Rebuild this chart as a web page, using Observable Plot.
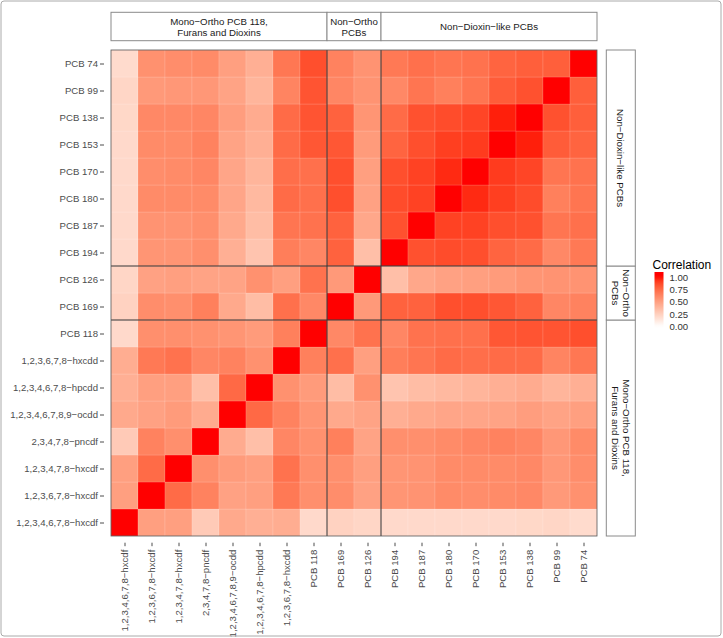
<!DOCTYPE html>
<html>
<head>
<meta charset="utf-8">
<script src="https://cdn.jsdelivr.net/npm/d3@7"></script>
<script src="https://cdn.jsdelivr.net/npm/@observablehq/plot@0.6"></script>
<style>
  html, body { margin: 0; padding: 0; background: #fff; }
  #chart { width: 723px; height: 638px; }
</style>
</head>
<body>
<div id="chart"></div>
<script>
// Variables in axis order (x left→right; y bottom→top)
const variables = [
  "1,2,3,4,6,7,8−hxcdf", "1,2,3,6,7,8−hxcdf", "1,2,3,4,7,8−hxcdf", "2,3,4,7,8−pncdf",
  "1,2,3,4,6,7,8,9−ocdd", "1,2,3,4,6,7,8−hpcdd", "1,2,3,6,7,8−hxcdd", "PCB 118",
  "PCB 169", "PCB 126",
  "PCB 194", "PCB 187", "PCB 180", "PCB 170", "PCB 153", "PCB 138", "PCB 99", "PCB 74"
];

// Lower triangle of the correlation matrix: row i holds corr(variables[i], variables[j]) for j < i
const lowerTriangle = [
  [],
  [0.50],
  [0.50, 0.74],
  [0.28, 0.64, 0.58],
  [0.45, 0.49, 0.52, 0.44],
  [0.42, 0.50, 0.50, 0.34, 0.75],
  [0.43, 0.68, 0.71, 0.62, 0.64, 0.57],
  [0.20, 0.58, 0.58, 0.57, 0.55, 0.52, 0.65],
  [0.24, 0.59, 0.58, 0.65, 0.45, 0.35, 0.72, 0.61],
  [0.22, 0.49, 0.50, 0.48, 0.48, 0.57, 0.50, 0.71, 0.53],
  [0.20, 0.55, 0.55, 0.58, 0.42, 0.31, 0.66, 0.62, 0.78, 0.34],
  [0.20, 0.56, 0.56, 0.58, 0.45, 0.35, 0.70, 0.71, 0.78, 0.46, 0.84],
  [0.20, 0.60, 0.60, 0.60, 0.47, 0.37, 0.74, 0.72, 0.85, 0.49, 0.86, 0.89],
  [0.20, 0.59, 0.60, 0.62, 0.47, 0.39, 0.73, 0.72, 0.85, 0.50, 0.85, 0.89, 0.95],
  [0.20, 0.60, 0.60, 0.64, 0.48, 0.42, 0.74, 0.82, 0.82, 0.52, 0.77, 0.85, 0.90, 0.91],
  [0.21, 0.61, 0.61, 0.62, 0.51, 0.44, 0.74, 0.83, 0.78, 0.55, 0.74, 0.84, 0.86, 0.88, 0.97],
  [0.22, 0.53, 0.54, 0.54, 0.48, 0.39, 0.63, 0.83, 0.62, 0.56, 0.61, 0.70, 0.65, 0.70, 0.80, 0.84],
  [0.19, 0.57, 0.59, 0.60, 0.50, 0.42, 0.69, 0.85, 0.64, 0.56, 0.68, 0.72, 0.70, 0.71, 0.77, 0.79, 0.79]
];

// Facet groups
const groupMembers = [
  variables.slice(0, 8),
  variables.slice(8, 10),
  variables.slice(10, 18)
];
const groupLabels = [
  ["Mono−Ortho PCB 118,", "Furans and Dioxins"],
  ["Non−Ortho", "PCBs"],
  ["Non−Dioxin−like PCBs"]
];

const legendTitle = "Correlation";
const legendTicks = [0, 0.25, 0.5, 0.75, 1];

// Build table
const table = [];
for (let i = 0; i < variables.length; i++) {
  for (let j = 0; j < variables.length; j++) {
    const v = i === j ? 1 : (i > j ? lowerTriangle[i][j] : lowerTriangle[j][i]);
    table.push({col: variables[j], row: variables[i], value: v});
  }
}

const W = 723, H = 638;
const FONT = "'Liberation Sans', Arial, Helvetica, sans-serif";

const chart = Plot.plot({
  width: W,
  height: H,
  marginLeft: 104,
  marginRight: 119,
  marginTop: 43.3,
  marginBottom: 95.3,
  style: {fontFamily: FONT, fontSize: "9.6px", color: "#4D4D4D", background: "white", overflow: "visible"},
  x: {domain: variables, padding: 0, label: null, tickRotate: -90, tickSize: 3.5, tickPadding: 3},
  y: {domain: variables.slice().reverse(), padding: 0, label: null, tickSize: 4, tickPadding: 2.5},
  color: {type: "linear", domain: [0, 1], range: ["white", "red"], interpolate: "lab"},
  marks: [
    Plot.cell(table, {x: "col", y: "row", fill: "value", stroke: "white", strokeWidth: 0.5, strokeOpacity: 0.25})
  ]
});

document.getElementById("chart").appendChild(chart);

const svg = d3.select(chart);
const xs = chart.scale("x");
const ys = chart.scale("y");
const cs = chart.scale("color");
const bw = xs.bandwidth, bh = ys.bandwidth;
const px0 = xs.apply(variables[0]);
const px1 = xs.apply(variables[variables.length - 1]) + bw;
const py0 = ys.apply(variables[variables.length - 1]);
const py1 = ys.apply(variables[0]) + bh;

const g = svg.append("g").attr("text-anchor", "start");

// Facet dividers
groupMembers.slice(1).forEach(members => {
  const x = xs.apply(members[0]);
  g.append("line").attr("x1", x).attr("x2", x).attr("y1", py0).attr("y2", py1)
    .attr("stroke", "#333").attr("stroke-width", 1);
  const y = ys.apply(members[0]) + bh;
  g.append("line").attr("x1", px0).attr("x2", px1).attr("y1", y).attr("y2", y)
    .attr("stroke", "#333").attr("stroke-width", 1);
});
// Panel frame
g.append("rect").attr("x", px0).attr("y", py0).attr("width", px1 - px0).attr("height", py1 - py0)
  .attr("fill", "none").attr("stroke", "#555").attr("stroke-width", 0.8);

// Top strips
const stripTop = 12.3, stripBottom = 40.7;
groupMembers.forEach((members, k) => {
  const x0 = xs.apply(members[0]);
  const x1 = xs.apply(members[members.length - 1]) + bw;
  g.append("rect").attr("x", x0).attr("y", stripTop).attr("width", x1 - x0).attr("height", stripBottom - stripTop)
    .attr("fill", "white").attr("stroke", "#8a8a8a").attr("stroke-width", 1);
  const lines = groupLabels[k];
  const cx = (x0 + x1) / 2, cy = (stripTop + stripBottom) / 2;
  lines.forEach((t, li) => {
    g.append("text").attr("x", cx).attr("y", cy + (li - (lines.length - 1) / 2) * 11)
      .attr("text-anchor", "middle").attr("dominant-baseline", "central")
      .attr("font-family", FONT).attr("font-size", "9.7px").attr("fill", "#1A1A1A").text(t);
  });
});

// Right strips
const stripLeft = 606.3, stripRight = 635.3;
groupMembers.forEach((members, k) => {
  const yA = ys.apply(members[0]) + bh;
  const yB = ys.apply(members[members.length - 1]);
  const y0 = Math.min(yA, yB), y1 = Math.max(yA, yB);
  g.append("rect").attr("x", stripLeft).attr("y", y0).attr("width", stripRight - stripLeft).attr("height", y1 - y0)
    .attr("fill", "white").attr("stroke", "#8a8a8a").attr("stroke-width", 1);
  const lines = groupLabels[k];
  const cx = (stripLeft + stripRight) / 2, cy = (y0 + y1) / 2;
  const tg = g.append("g").attr("transform", `translate(${cx},${cy}) rotate(90)`);
  lines.forEach((t, li) => {
    tg.append("text").attr("x", 0).attr("y", (li - (lines.length - 1) / 2) * 11)
      .attr("text-anchor", "middle").attr("dominant-baseline", "central")
      .attr("font-family", FONT).attr("font-size", "9.7px").attr("fill", "#1A1A1A").text(t);
  });
});

// Legend (vertical colour bar)
const lgX = 654.5, lgW = 9, lgTop = 272, lgBottom = 331;
const yVal = v => 326.5 - v * (326.5 - 277);
const defs = svg.append("defs");
const grad = defs.append("linearGradient").attr("id", "corrGrad")
  .attr("x1", 0).attr("x2", 0).attr("y1", 1).attr("y2", 0);
d3.range(0, 1.0001, 0.05).forEach(t => {
  const v = ((lgBottom - t * (lgBottom - lgTop)) - 326.5) / (277 - 326.5);
  grad.append("stop").attr("offset", t).attr("stop-color", cs.apply(Math.max(0, Math.min(1, v))));
});
g.append("text").attr("x", 652.5).attr("y", 265).attr("dominant-baseline", "central").attr("text-anchor", "start")
  .attr("font-family", FONT).attr("font-size", "12px").attr("fill", "#000").text(legendTitle);
g.append("rect").attr("x", lgX).attr("y", lgTop).attr("width", lgW).attr("height", lgBottom - lgTop)
  .attr("fill", "url(#corrGrad)");
legendTicks.forEach(v => {
  g.append("text").attr("x", 669.5).attr("y", yVal(v)).attr("dominant-baseline", "central").attr("text-anchor", "start")
    .attr("font-family", FONT).attr("font-size", "9.6px").attr("fill", "#333").text(v.toFixed(2));
});

// Outer frame
g.append("rect").attr("x", 1).attr("y", 1).attr("width", W - 3).attr("height", H - 3).attr("rx", 3)
  .attr("fill", "none").attr("stroke", "#aaa").attr("stroke-width", 1);
</script>
</body>
</html>
